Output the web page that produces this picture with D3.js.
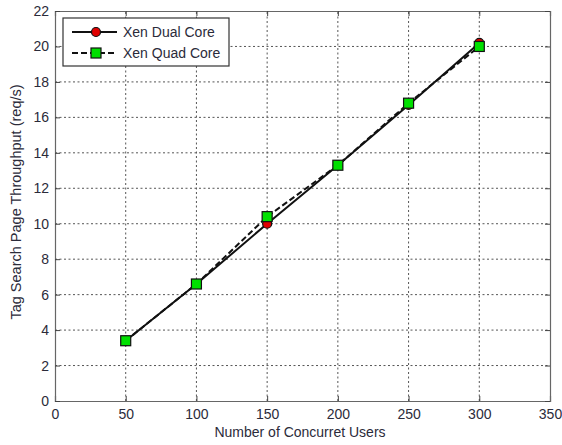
<!DOCTYPE html>
<html>
<head>
<meta charset="utf-8">
<script src="https://cdn.jsdelivr.net/npm/d3@7"></script>
<style>
  html, body { margin: 0; padding: 0; background: #fff; }
  text { font-family: "Liberation Sans", Arial, sans-serif; fill: #2b2b3a; }
</style>
</head>
<body>
<svg id="chart" width="562" height="445"></svg>
<script>
// Throughput measurements per number of concurrent users
const users = [50, 100, 150, 200, 250, 300];
const dualCore = [3.4, 6.6, 10.0, 13.3, 16.7, 20.2];
const quadCore = [3.4, 6.6, 10.4, 13.3, 16.8, 20.0];
const xTicks = [0, 50, 100, 150, 200, 250, 300, 350];
const yTicks = [0, 2, 4, 6, 8, 10, 12, 14, 16, 18, 20, 22];
const seriesNames = ["Xen Dual Core", "Xen Quad Core"];

const svg = d3.select("#chart");
const m = { left: 55, right: 12, top: 11, bottom: 44 };
const W = 562, H = 445;
const fs = 14;
const x = d3.scaleLinear().domain([0, 350]).range([m.left, W - m.right]);
const y = d3.scaleLinear().domain([0, 22]).range([H - m.bottom, m.top]);

// dotted grid
const grid = svg.append("g").attr("stroke", "#555").attr("stroke-width", 1)
  .attr("stroke-dasharray", "2,2.5");
xTicks.slice(1, -1).forEach(v => grid.append("line")
  .attr("x1", x(v)).attr("x2", x(v)).attr("y1", y(0)).attr("y2", y(22)));
yTicks.slice(1, -1).forEach(v => grid.append("line")
  .attr("x1", x(0)).attr("x2", x(350)).attr("y1", y(v)).attr("y2", y(v)));

// axes with inward ticks on all four sides
const tick = 5;
svg.append("g").attr("transform", `translate(0,${y(0)})`)
  .call(d3.axisBottom(x).tickValues(xTicks).tickSize(-tick).tickPadding(8))
  .call(g => g.selectAll("text").attr("font-size", fs));
svg.append("g").attr("transform", `translate(0,${y(22)})`)
  .call(d3.axisTop(x).tickValues(xTicks).tickSize(-tick).tickFormat(""));
svg.append("g").attr("transform", `translate(${x(0)},0)`)
  .call(d3.axisLeft(y).tickValues(yTicks).tickSize(-tick).tickPadding(6))
  .call(g => g.selectAll("text").attr("font-size", fs));
svg.append("g").attr("transform", `translate(${x(350)},0)`)
  .call(d3.axisRight(y).tickValues(yTicks).tickSize(-tick).tickFormat(""));
svg.selectAll(".domain").attr("stroke", "#666").attr("stroke-width", 1.2);
svg.selectAll(".tick line").attr("stroke", "#444");

// axis titles
svg.append("text").attr("x", 300).attr("y", 437).attr("text-anchor", "middle")
  .attr("font-size", fs).text("Number of Concurret Users");
svg.append("text").attr("transform", `translate(21,202) rotate(-90)`)
  .attr("text-anchor", "middle").attr("font-size", 14.5)
  .text("Tag Search Page Throughput (req/s)");

// series
const line = d3.line().x(d => x(d[0])).y(d => y(d[1]));
const dual = users.map((u, i) => [u, dualCore[i]]);
const quad = users.map((u, i) => [u, quadCore[i]]);

svg.append("path").datum(dual).attr("d", line).attr("fill", "none")
  .attr("stroke", "#111").attr("stroke-width", 2);
svg.append("path").datum(quad).attr("d", line).attr("fill", "none")
  .attr("stroke", "#111").attr("stroke-width", 2).attr("stroke-dasharray", "6,3");

svg.append("g").selectAll("circle").data(dual).join("circle")
  .attr("cx", d => x(d[0])).attr("cy", d => y(d[1])).attr("r", 4.5)
  .attr("fill", "#e00000").attr("stroke", "#111").attr("stroke-width", 1.2);
svg.append("g").selectAll("rect").data(quad).join("rect")
  .attr("x", d => x(d[0]) - 5).attr("y", d => y(d[1]) - 5)
  .attr("width", 10).attr("height", 10)
  .attr("fill", "#00e000").attr("stroke", "#111").attr("stroke-width", 1.2);

// legend
const lg = svg.append("g").attr("transform", "translate(63,18)");
lg.append("rect").attr("width", 166).attr("height", 48)
  .attr("fill", "#fff").attr("stroke", "#333").attr("stroke-width", 1.2);
[0, 1].forEach(i => {
  const cy = 14 + i * 21;
  lg.append("line").attr("x1", 9).attr("x2", 54).attr("y1", cy).attr("y2", cy)
    .attr("stroke", "#111").attr("stroke-width", 2)
    .attr("stroke-dasharray", i ? "6,3" : null);
  if (i === 0) {
    lg.append("circle").attr("cx", 33).attr("cy", cy).attr("r", 4.5)
      .attr("fill", "#e00000").attr("stroke", "#111").attr("stroke-width", 1.2);
  } else {
    lg.append("rect").attr("x", 28).attr("y", cy - 5).attr("width", 10).attr("height", 10)
      .attr("fill", "#00e000").attr("stroke", "#111").attr("stroke-width", 1.2);
  }
  lg.append("text").attr("x", 60).attr("y", cy + 5).attr("font-size", fs)
    .text(seriesNames[i]);
});
</script>
</body>
</html>
